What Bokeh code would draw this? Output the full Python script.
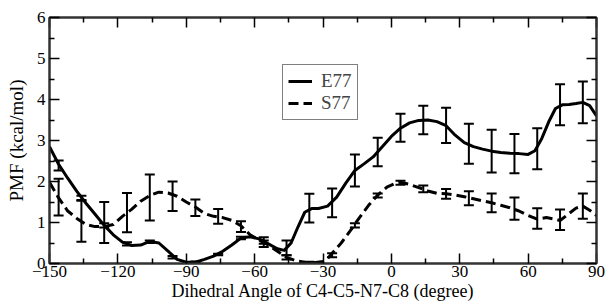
from bokeh.plotting import figure
from bokeh.models import (Whisker, TeeHead, ColumnDataSource, FixedTicker, LinearAxis,
                          Legend, LegendItem, Range1d)
from bokeh.embed import file_html
from bokeh.resources import INLINE

# ---- data ----
e77_angle = [-150, -146, -142, -138, -134, -130, -126, -122, -118, -114, -110, -106, -102, -98, -94,
             -90, -86, -82, -78, -74, -70, -66, -62, -58, -54, -50, -47, -44, -41, -38, -35, -32,
             -28, -24, -20, -16, -12, -8, -4, 0, 4, 8, 12, 16, 20, 24, 28, 32, 36, 40, 44, 48, 52,
             56, 60, 63, 66, 69, 72, 75, 78, 81, 84, 87, 90]
e77_pmf = [2.85, 2.42, 2.08, 1.76, 1.47, 1.2, 0.93, 0.7, 0.52, 0.44, 0.45, 0.54, 0.5, 0.3, 0.1,
           0.03, 0.03, 0.1, 0.18, 0.3, 0.45, 0.62, 0.65, 0.6, 0.48, 0.36, 0.32, 0.5, 0.89, 1.25,
           1.34, 1.34, 1.4, 1.62, 1.96, 2.27, 2.43, 2.6, 2.85, 3.1, 3.3, 3.43, 3.49, 3.5, 3.46,
           3.36, 3.13, 2.95, 2.85, 2.79, 2.74, 2.71, 2.69, 2.68, 2.66, 2.75, 3.05, 3.45, 3.78,
           3.87, 3.88, 3.9, 3.93, 3.85, 3.6]

s77_angle = [-150, -146, -142, -138, -134, -130, -126, -122, -118, -114, -110, -106, -102, -98, -94,
             -90, -86, -82, -78, -74, -70, -66, -62, -58, -54, -50, -46, -42, -38, -34, -30, -28,
             -26, -22, -18, -14, -10, -6, -2, 2, 4, 8, 12, 16, 20, 24, 28, 32, 36, 40, 44, 48, 52,
             56, 60, 64, 68, 72, 74, 78, 81, 84, 87, 90]
s77_pmf = [1.98, 1.6, 1.28, 1.1, 0.95, 0.9, 0.9, 0.95, 1.15, 1.32, 1.52, 1.66, 1.74, 1.72, 1.64,
           1.5, 1.38, 1.22, 1.15, 1.12, 1.05, 0.92, 0.7, 0.57, 0.45, 0.3, 0.15, 0.07, 0.03, 0.02,
           0.05, 0.12, 0.25, 0.5, 0.8, 1.12, 1.42, 1.67, 1.86, 1.96, 1.98, 1.93, 1.85, 1.77, 1.71,
           1.7, 1.67, 1.63, 1.58, 1.53, 1.48, 1.42, 1.36, 1.28, 1.17, 1.08, 1.12, 1.08, 1.05,
           1.22, 1.35, 1.4, 1.3, 1.17]

err_angle = [-146, -136, -126, -116, -106, -96, -86, -76, -66, -56, -46, -36, -26, -16, -6,
             4, 14, 24, 34, 44, 54, 64, 74, 84]
e77_err_mean = [2.39, 1.6, 0.93, 0.48, 0.53, 0.15, 0.03, 0.22, 0.62, 0.56, 0.38, 1.35, 1.48, 2.27,
                2.72, 3.31, 3.5, 3.37, 2.92, 2.74, 2.68, 2.8, 3.87, 3.93]
e77_err = [0.12, 0.05, 0.05, 0.04, 0.03, 0.03, 0.02, 0.02, 0.03, 0.08, 0.18, 0.35, 0.35, 0.39,
           0.35, 0.34, 0.35, 0.43, 0.49, 0.52, 0.48, 0.5, 0.5, 0.51]
s77_err_mean = [1.62, 1.03, 1.0, 1.24, 1.61, 1.64, 1.36, 1.15, 0.9, 0.48, 0.15, 0.02, 0.2, 0.93,
                1.66, 1.97, 1.82, 1.7, 1.59, 1.48, 1.34, 1.1, 1.07, 1.4]
s77_err = [0.45, 0.5, 0.5, 0.48, 0.56, 0.36, 0.2, 0.18, 0.13, 0.08, 0.05, 0.02, 0.05, 0.05,
           0.05, 0.05, 0.08, 0.12, 0.17, 0.23, 0.27, 0.25, 0.25, 0.31]

x_ticks = [-150, -120, -90, -60, -30, 0, 30, 60, 90]
x_minor = [-135, -105, -75, -45, -15, 15, 45, 75]
y_ticks = [0, 1, 2, 3, 4, 5, 6]
y_minor = [0.5, 1.5, 2.5, 3.5, 4.5, 5.5]

FONT = "Liberation Serif"

p = figure(width=607, height=303, x_range=Range1d(-150, 90), y_range=Range1d(0, 6),
           output_backend="svg", toolbar_location=None,
           min_border_left=49, min_border_right=11, min_border_top=17, min_border_bottom=0,
           x_axis_label="Dihedral Angle of C4-C5-N7-C8 (degree)",
           y_axis_label="PMF (kcal/mol)")
p.grid.visible = False
p.outline_line_color = "#333333"
p.outline_line_width = 2
p.background_fill_color = "white"
p.border_fill_color = "white"


def style(ax, ticks, minor, labels=True):
    ax.ticker = FixedTicker(ticks=ticks, minor_ticks=minor)
    ax.major_tick_in = 10
    ax.major_tick_out = 0
    ax.minor_tick_in = 5
    ax.minor_tick_out = 0
    ax.axis_line_color = "#333333"
    ax.axis_line_width = 2
    ax.major_tick_line_color = "black"
    ax.major_tick_line_width = 1.5
    ax.minor_tick_line_color = "black"
    ax.minor_tick_line_width = 1.5
    if labels:
        ax.major_label_text_font = FONT
        ax.major_label_text_font_size = "17px"
        ax.major_label_text_color = "black"
        ax.major_label_standoff = 2
        ax.axis_label_text_font = FONT
        ax.axis_label_text_font_size = "18px"
        ax.axis_label_text_font_style = "normal"
        ax.axis_label_text_color = "black"
        ax.axis_label_standoff = 1
    else:
        ax.major_label_overrides = {t: "" for t in ticks}
        ax.major_label_text_font_size = "1px"
        ax.major_label_standoff = 0
        ax.axis_label = None


style(p.xaxis[0], x_ticks, x_minor)
style(p.yaxis[0], y_ticks, y_minor)
p.yaxis[0].axis_label_standoff = 7
p.yaxis[0].major_label_standoff = 4
p.yaxis[0].axis_label_text_font_size = "19px"

top = LinearAxis()
style(top, x_ticks, x_minor, labels=False)
p.add_layout(top, "above")
right = LinearAxis()
style(right, y_ticks, y_minor, labels=False)
p.add_layout(right, "right")

l_e77 = p.line(e77_angle, e77_pmf, line_width=3, line_color="black", line_join="round")
l_s77 = p.line(s77_angle, s77_pmf, line_width=3, line_color="black", line_dash="10 5",
               line_join="round")

for mean, err in ((e77_err_mean, e77_err), (s77_err_mean, s77_err)):
    src = ColumnDataSource(dict(x=err_angle,
                                upper=[m + e for m, e in zip(mean, err)],
                                lower=[m - e for m, e in zip(mean, err)]))
    w = Whisker(source=src, base="x", upper="upper", lower="lower",
                line_color="black", line_width=2,
                upper_head=TeeHead(size=10, line_color="black", line_width=2),
                lower_head=TeeHead(size=10, line_color="black", line_width=2))
    p.add_layout(w)

legend = Legend(items=[LegendItem(label="E77", renderers=[l_e77]),
                       LegendItem(label="S77", renderers=[l_s77])],
                location=(233, 143), padding=5, spacing=0, margin=0,
                glyph_width=24, glyph_height=20, label_height=20, label_standoff=9,
                label_text_font=FONT, label_text_font_size="19px",
                border_line_color="black", border_line_width=1,
                background_fill_alpha=1.0)
p.add_layout(legend, "center")

open("out.html", "w").write(file_html(p, INLINE))
